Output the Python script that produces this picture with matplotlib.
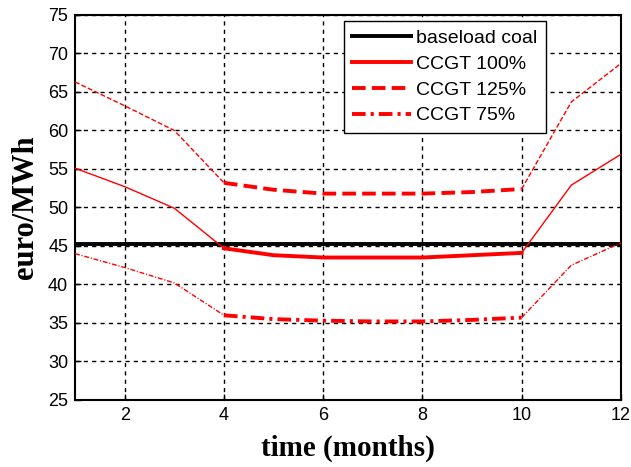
import numpy as np
import matplotlib
matplotlib.use('Agg')
import matplotlib.pyplot as plt

# monthly values
months = [1, 2, 3, 4, 5, 6, 7, 8, 9, 10, 11, 12]
coal = [45.3] * 12
ccgt_100 = [55.1, 52.7, 49.9, 44.7, 43.8, 43.5, 43.5, 43.5, 43.8, 44.1, 52.9, 56.9]
ccgt_125 = [66.3, 63.2, 60.0, 53.2, 52.3, 51.8, 51.8, 51.8, 52.0, 52.4, 63.7, 68.7]
ccgt_75 = [44.0, 42.2, 40.2, 36.0, 35.5, 35.3, 35.2, 35.2, 35.4, 35.7, 42.5, 45.4]

y_ticks = [25, 30, 35, 40, 45, 50, 55, 60, 65, 70, 75]
x_ticks = [2, 4, 6, 8, 10, 12]

plt.rcParams['font.family'] = ['Liberation Sans', 'DejaVu Sans']

fig = plt.figure(figsize=(6.31, 4.67), dpi=100)
ax = fig.add_axes([0.119, 0.1435, 0.865, 0.8245])

x = np.array(months)
ax.plot(x, coal, color='black', lw=2.8, label='baseload coal', zorder=3)

# the flat middle part (months 4-10) is drawn heavier than the edges
styles = [(ccgt_100, '-', 'CCGT 100%'),
          (ccgt_125, (0, (3.5, 1.6)), 'CCGT 125%'),
          (ccgt_75, (0, (3.5, 1.3, 0.8, 1.3)), 'CCGT 75%')]
for vals, ls, lab in styles:
    v = np.array(vals)
    ax.plot(x[:4], v[:4], color='red', lw=1.0, linestyle=ls, zorder=3)
    ax.plot(x[9:], v[9:], color='red', lw=1.0, linestyle=ls, zorder=3)
    ax.plot(x[3:10], v[3:10], color='red', lw=2.8, linestyle=ls, zorder=3, label=lab)

ax.set_xlim(1, 12)
ax.set_ylim(25, 75)
ax.set_xticks(x_ticks)
ax.set_yticks(y_ticks)
ax.tick_params(direction='in', length=4, width=1, labelsize=13, colors='black', pad=5)
ax.grid(True, color='black', linestyle=(0, (3, 3)), lw=1.0)
for s in ax.spines.values():
    s.set_linewidth(1.5)

ax.set_xlabel('time (months)', family='Liberation Serif', fontweight='bold', fontsize=21, labelpad=8)
ax.set_ylabel('euro/MWh', family='Liberation Serif', fontweight='bold', fontsize=22, labelpad=6)

leg = ax.legend(loc='upper left', bbox_to_anchor=(0.485, 0.995), fontsize=14,
                handlelength=3.0, labelspacing=0.42, handletextpad=0.25,
                fancybox=False, framealpha=1, edgecolor='black', borderpad=0.45,
                borderaxespad=0.2)
leg.get_frame().set_linewidth(1.0)

fig.savefig('out.png', dpi=100)
